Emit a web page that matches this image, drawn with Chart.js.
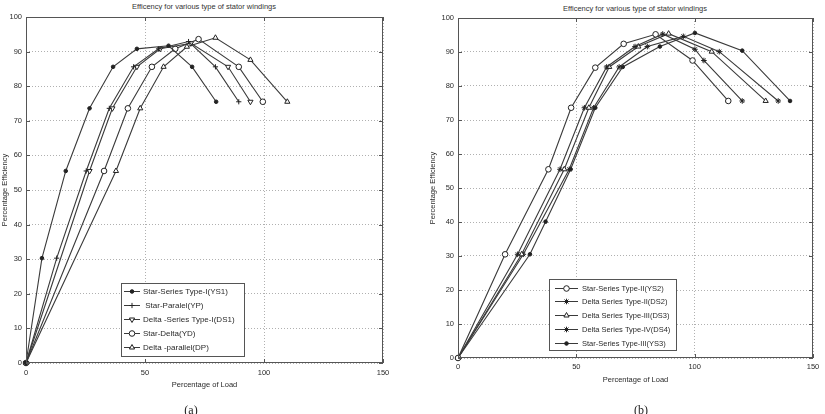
<!DOCTYPE html>
<html>
<head>
<meta charset="utf-8">
<title>Efficency for various type of stator windings</title>
<script src="https://cdn.jsdelivr.net/npm/chart.js"></script>
<style>
  body { margin: 0; background: #fff; width: 825px; height: 414px; overflow: hidden; position: relative; font-family: "Liberation Sans", Arial, sans-serif; }
  canvas { position: absolute; top: 0; }
  #chartA { left: 0; }
  #chartB { left: 420px; }
  .title { position: absolute; font-size: 7.5px; line-height: 9px; color: #333; white-space: nowrap; transform: translateX(-50%); }
  .cap { position: absolute; font-family: "Liberation Serif", serif; font-size: 12px; line-height: 14px; color: #222; transform: translateX(-50%); }
</style>
</head>
<body>
<div class="title" style="left:204px; top:2px;">Efficency for various type of stator windings</div>
<div class="title" style="left:635px; top:4px;">Efficency for various type of stator windings</div>
<canvas id="chartA" width="410" height="414"></canvas>
<canvas id="chartB" width="405" height="414"></canvas>
<div class="cap" style="left:191px; top:403px;">(a)</div>
<div class="cap" style="left:641px; top:403px;">(b)</div>

<script>
// axis ticks
const loadTicks = [0, 50, 100, 150];
const effTicks = [0, 10, 20, 30, 40, 50, 60, 70, 80, 90, 100];

// (a) type I windings
const loadYS1 = [0, 6.7, 16.7, 26.7, 36.6, 46.6, 59.9, 69.8, 79.9];
const effYS1  = [0, 30.3, 55.5, 73.6, 85.6, 90.8, 91.7, 85.6, 75.5];
const loadYP  = [0, 12.9, 25.3, 35.0, 45.2, 55.7, 68.3, 79.6, 89.4];
const effYP   = [0, 30.3, 55.5, 73.6, 85.6, 90.8, 92.9, 85.6, 75.5];
const loadDS1 = [0, 26.7, 36.3, 46.6, 56.4, 69.3, 84.9, 94.3];
const effDS1  = [0, 55.5, 73.6, 85.6, 90.8, 92.4, 85.6, 75.5];
const loadYD  = [0, 32.8, 42.8, 52.9, 62.7, 72.5, 89.4, 99.5];
const effYD   = [0, 55.5, 73.6, 85.6, 90.8, 93.6, 85.6, 75.5];
const loadDP  = [0, 37.8, 48.0, 57.8, 67.6, 79.6, 94.3, 109.8];
const effDP   = [0, 55.5, 73.6, 85.6, 91.4, 94.0, 87.6, 75.5];

// (b) type II-IV windings
const loadYS2 = [0, 19.9, 38.2, 47.8, 58.0, 70.0, 83.5, 99.1, 114.2];
const effYS2  = [0, 30.5, 55.5, 73.6, 85.4, 92.4, 95.2, 87.5, 75.6];
const loadDS2 = [0, 25.2, 43.1, 53.4, 62.8, 74.8, 86.5, 100.1, 103.9, 120.1];
const effDS2  = [0, 30.5, 55.5, 73.6, 85.6, 91.6, 95.3, 90.8, 87.5, 75.6];
const loadDS3 = [0, 26.9, 44.9, 55.3, 63.9, 76.2, 89.0, 107.2, 130.0];
const effDS3  = [0, 30.5, 55.5, 73.6, 85.6, 91.6, 95.4, 90.1, 75.6];
const loadDS4 = [0, 27.6, 47.0, 57.3, 68.1, 80.0, 95.2, 110.4, 135.3];
const effDS4  = [0, 30.5, 55.5, 73.6, 85.6, 91.6, 94.6, 90.1, 75.6];
const loadYS3 = [0, 30.4, 37.0, 47.6, 58.0, 69.6, 85.3, 100.1, 120.1, 140.3];
const effYS3  = [0, 30.5, 40.1, 55.5, 73.6, 85.6, 91.6, 95.6, 90.4, 75.6];

const FONT = '"Liberation Sans", Arial, sans-serif';
const INK = '#2a2a2a';
const LINE = '#3a3a3a';

// marker styles (matlab-ish)
const DOT = { pointStyle: 'circle', radius: 1.8, fill: '#222' };
const PLUS = { pointStyle: 'cross', radius: 2.6, fill: '#222' };
const TRI_DOWN = { pointStyle: 'triangle', radius: 3, rotation: 180, fill: '#fff' };
const TRI_UP = { pointStyle: 'triangle', radius: 3, fill: '#fff' };
const RING = { pointStyle: 'circle', radius: 2.8, fill: '#fff' };
const STAR = { pointStyle: 'star', radius: 2.8, fill: '#222' };

function series(label, xs, ys, mk) {
  return {
    label,
    data: xs.map((x, i) => ({ x, y: ys[i] })),
    borderColor: LINE,
    borderWidth: 1.1,
    pointStyle: mk.pointStyle,
    pointRadius: mk.radius,
    pointRotation: mk.rotation || 0,
    pointBackgroundColor: mk.fill,
    pointBorderColor: '#222',
    pointBorderWidth: 1,
    pointHoverRadius: mk.radius,
    tension: 0,
    clip: false,
    marker: mk
  };
}

// box, grid ticks pointing in, like matlab axes
const framePlugin = {
  id: 'frame',
  afterDatasetsDraw(chart) {
    const { ctx, chartArea: a, scales } = chart;
    ctx.save();
    ctx.strokeStyle = '#555';
    ctx.lineWidth = 1;
    ctx.strokeRect(Math.round(a.left) + 0.5, Math.round(a.top) + 0.5,
      Math.round(a.right - a.left) - 1, Math.round(a.bottom - a.top) - 1);
    ctx.beginPath();
    scales.y.ticks.forEach(t => {
      const py = Math.round(scales.y.getPixelForValue(t.value)) + 0.5;
      ctx.moveTo(a.left, py); ctx.lineTo(a.left + 4, py);
      ctx.moveTo(a.right - 4, py); ctx.lineTo(a.right, py);
    });
    scales.x.ticks.forEach(t => {
      const px = Math.round(scales.x.getPixelForValue(t.value)) + 0.5;
      ctx.moveTo(px, a.bottom); ctx.lineTo(px, a.bottom - 4);
      ctx.moveTo(px, a.top); ctx.lineTo(px, a.top + 4);
    });
    ctx.stroke();
    ctx.restore();
  }
};

// legend box sitting inside the plot
const boxLegend = {
  id: 'boxLegend',
  afterDraw(chart, args, o) {
    const ctx = chart.ctx;
    ctx.save();
    ctx.fillStyle = '#fff';
    ctx.fillRect(o.left, o.top, o.right - o.left, o.bottom - o.top);
    ctx.strokeStyle = '#555';
    ctx.lineWidth = 1;
    ctx.strokeRect(o.left + 0.5, o.top + 0.5, o.right - o.left - 1, o.bottom - o.top - 1);
    ctx.font = o.fontSize + 'px ' + FONT;
    ctx.textBaseline = 'middle';
    chart.data.datasets.forEach((ds, i) => {
      const y = Math.round(o.firstRow + i * o.rowStep) + 0.5;
      ctx.strokeStyle = LINE;
      ctx.beginPath();
      ctx.moveTo(o.sampleLeft, y);
      ctx.lineTo(o.sampleRight, y);
      ctx.stroke();
      const mk = ds.marker;
      ctx.fillStyle = mk.fill;
      ctx.strokeStyle = '#222';
      Chart.helpers.drawPoint(ctx, {
        pointStyle: mk.pointStyle, radius: mk.radius,
        rotation: mk.rotation || 0, borderWidth: 1
      }, (o.sampleLeft + o.sampleRight) / 2, y);
      ctx.fillStyle = INK;
      ctx.fillText(ds.label, o.textX, y);
    });
    ctx.restore();
  }
};

function makeOptions(pad, yWidth, legend) {
  return {
    responsive: false,
    animation: false,
    events: [],
    layout: { padding: pad },
    plugins: {
      legend: { display: false },
      title: { display: false },
      tooltip: { enabled: false },
      boxLegend: legend
    },
    scales: {
      x: {
        type: 'linear',
        min: 0, max: 150,
        afterFit: s => { s.height = 26; },
        afterBuildTicks: s => { s.ticks = loadTicks.map(v => ({ value: v })); },
        ticks: { color: INK, font: { family: FONT, size: 7.5 }, padding: pad.xTickPad, maxRotation: 0 },
        grid: { color: '#b0b0b0', drawTicks: false },
        border: { display: false, dash: [1, 2] },
        title: { display: true, text: 'Percentage of Load', color: INK, font: { family: FONT, size: 7.5 }, padding: 0 }
      },
      y: {
        type: 'linear',
        min: 0, max: 100,
        afterFit: s => { s.width = yWidth; },
        afterBuildTicks: s => { s.ticks = effTicks.map(v => ({ value: v })); },
        ticks: { color: INK, font: { family: FONT, size: 7.5 }, padding: 4 },
        grid: { color: '#b0b0b0', drawTicks: false },
        border: { display: false, dash: [1, 2] },
        title: { display: true, text: 'Percentage Efficiency', color: INK, font: { family: FONT, size: 7.5 }, padding: 0 }
      }
    }
  };
}

const optsA = makeOptions({ left: 0, right: 27, top: 17, bottom: 25, xTickPad: 5 }, 26, {
  left: 121, top: 283, right: 245, bottom: 357,
  firstRow: 290.5, rowStep: 14, sampleLeft: 124, sampleRight: 140, textX: 143, fontSize: 8
});
new Chart(document.getElementById('chartA'), {
  type: 'line',
  data: {
    datasets: [
      series('Star-Series Type-I(YS1)', loadYS1, effYS1, DOT),
      series(' Star-Paralel(YP)', loadYP, effYP, PLUS),
      series('Delta -Series Type-I(DS1)', loadDS1, effDS1, TRI_DOWN),
      series('Star-Delta(YD)', loadYD, effYD, RING),
      series('Delta -parallel(DP)', loadDP, effDP, TRI_UP)
    ]
  },
  options: optsA,
  plugins: [framePlugin, boxLegend]
});

const optsB = makeOptions({ left: 8, right: 12, top: 18, bottom: 30, xTickPad: 4 }, 30, {
  left: 129, top: 279, right: 257, bottom: 351,
  firstRow: 287.5, rowStep: 13.8, sampleLeft: 135, sampleRight: 158, textX: 162, fontSize: 7.5
});
new Chart(document.getElementById('chartB'), {
  type: 'line',
  data: {
    datasets: [
      series('Star-Series Type-II(YS2)', loadYS2, effYS2, RING),
      series('Delta Series Type-II(DS2)', loadDS2, effDS2, STAR),
      series('Delta Series Type-III(DS3)', loadDS3, effDS3, TRI_UP),
      series('Delta Series Type-IV(DS4)', loadDS4, effDS4, STAR),
      series('Star-Series Type-III(YS3)', loadYS3, effYS3, DOT)
    ]
  },
  options: optsB,
  plugins: [framePlugin, boxLegend]
});
</script>
</body>
</html>
